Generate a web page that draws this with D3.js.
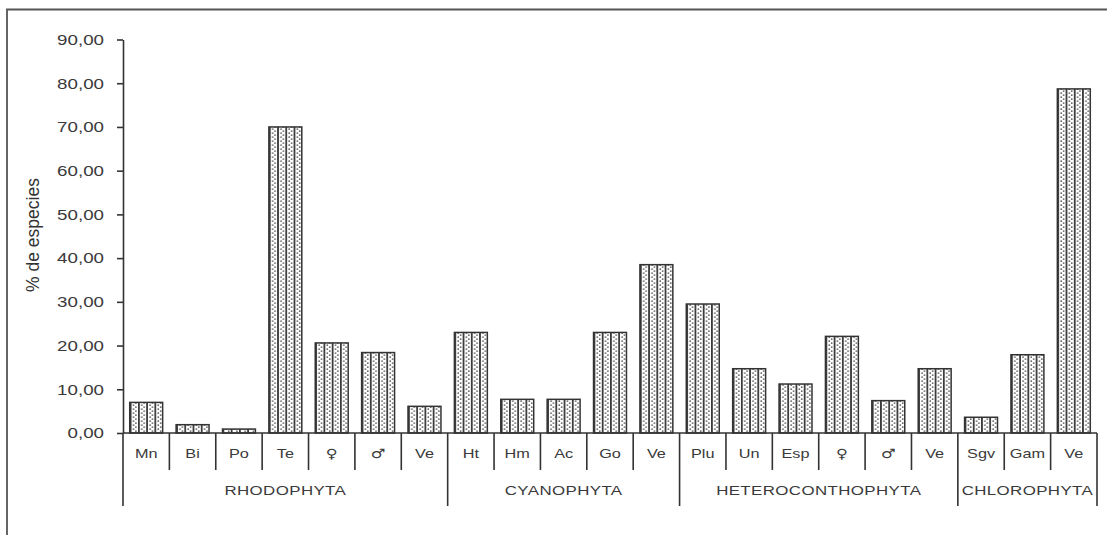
<!DOCTYPE html>
<html>
<head>
<meta charset="utf-8">
<script src="https://cdn.jsdelivr.net/npm/d3@7"></script>
<style>
  body { margin: 0; background: #fff; }
  svg { display: block; font-family: "Liberation Sans", Arial, sans-serif; }
</style>
</head>
<body>
<svg id="chart" width="1107" height="535"></svg>
<script>
// categories (sub labels) and their groups
var labels = ["Mn", "Bi", "Po", "Te", "\u2640", "\u2642", "Ve",
              "Ht", "Hm", "Ac", "Go", "Ve",
              "Plu", "Un", "Esp", "\u2640", "\u2642", "Ve",
              "Sgv", "Gam", "Ve"];
var groups = ["RHODOPHYTA", "CYANOPHYTA", "HETEROCONTHOPHYTA", "CHLOROPHYTA"];
var groupSizes = [7, 5, 6, 3];
var values = [7.0, 1.9, 0.9, 70.0, 20.6, 18.4, 6.1,
              23.0, 7.7, 7.7, 23.0, 38.5,
              29.5, 14.7, 11.2, 22.1, 7.4, 14.7,
              3.6, 17.9, 78.7];
var yTicks = [0, 10, 20, 30, 40, 50, 60, 70, 80, 90];

(function() {
var svg = d3.select("#chart");
var left = 123, right = 1097, plotTop = 39.5, base = 433;

var idx = d3.range(labels.length);
var x = d3.scaleBand().domain(idx).range([left, right]).paddingInner(0.29).paddingOuter(0.145);
var slot = d3.scaleBand().domain(idx).range([left, right]).padding(0);
var y = d3.scaleLinear().domain([0, 90]).range([base, plotTop]);

var fmt = function(d) { return d3.format(".2f")(d).replace(".", ","); };

// outer frame (left + top only)
svg.append("path")
  .attr("d", "M7,535 L7,9.5 L1107,9.5")
  .attr("fill", "none").attr("stroke", "#555").attr("stroke-width", 1.8);

// patterns, one per bar so the stripes line up with the bar edge
var defs = svg.append("defs");
idx.forEach(function(i) {
  var w = x.bandwidth() / 4;
  var p = defs.append("pattern")
    .attr("id", "pat" + i)
    .attr("patternUnits", "userSpaceOnUse")
    .attr("x", x(i)).attr("y", 0)
    .attr("width", w).attr("height", 4);
  p.append("rect").attr("width", w).attr("height", 4).attr("fill", "#fff");
  p.append("rect").attr("x", 0).attr("width", 1.8).attr("height", 4).attr("fill", "#3a3a3a");
  p.append("rect").attr("x", w * 0.38).attr("y", 0.4).attr("width", 1.5).attr("height", 1.5).attr("fill", "#555");
  p.append("rect").attr("x", w * 0.66).attr("y", 2.4).attr("width", 1.5).attr("height", 1.5).attr("fill", "#555");
});

// bars
svg.append("g").selectAll("rect")
  .data(values)
  .join("rect")
  .attr("x", function(d, i) { return x(i); })
  .attr("y", function(d) { return y(d); })
  .attr("width", x.bandwidth())
  .attr("height", function(d) { return base - y(d); })
  .attr("fill", function(d, i) { return "url(#pat" + i + ")"; })
  .attr("stroke", "#333").attr("stroke-width", 1.5);

// y axis
var yAxis = d3.axisLeft(y).tickValues(yTicks).tickFormat(fmt).tickSize(6).tickSizeOuter(0);
var gy = svg.append("g").attr("transform", "translate(" + left + ",0)").call(yAxis);
gy.select(".domain").attr("stroke", "#333").attr("stroke-width", 1.6);
gy.selectAll(".tick line").attr("stroke", "#333").attr("stroke-width", 1.6);
// the source picture is stretched sideways, so the labels are too
gy.selectAll(".tick text")
  .attr("x", 0)
  .attr("transform", "translate(-19,0) scale(1.25,1)")
  .attr("fill", "#3a3a3a").style("font-size", "15px")
  .style("font-family", "'Liberation Sans', Arial, sans-serif");

svg.append("text")
  .attr("transform", "translate(39,235) rotate(-90)")
  .attr("text-anchor", "middle")
  .attr("fill", "#333")
  .style("font-size", "17.5px")
  .text("% de especies");

// category axis
var gx = svg.append("g");
gx.append("line")
  .attr("x1", left).attr("x2", right).attr("y1", base).attr("y2", base)
  .attr("stroke", "#333").attr("stroke-width", 1.6);

var groupEdges = [0];
groupSizes.forEach(function(n, k) { groupEdges.push(groupEdges[k] + n); });

d3.range(labels.length + 1).forEach(function(i) {
  var xx = i < labels.length ? slot(i) : right;
  var isGroup = groupEdges.indexOf(i) >= 0;
  gx.append("line")
    .attr("x1", xx).attr("x2", xx)
    .attr("y1", base).attr("y2", isGroup ? 506 : 470)
    .attr("stroke", "#333").attr("stroke-width", 1.6);
});

gx.selectAll("text.sub")
  .data(labels)
  .join("text")
  .attr("class", "sub")
  .attr("transform", function(d, i) {
    return "translate(" + (slot(i) + slot.bandwidth() / 2) + ",457.5) scale(1.25,1)";
  })
  .attr("text-anchor", "middle")
  .attr("fill", "#3a3a3a")
  .style("font-size", "13px")
  .style("font-family", function(d) { return d.length == 1 ? "'DejaVu Sans', sans-serif" : null; })
  .text(function(d) { return d; });

gx.selectAll("text.grp")
  .data(groups)
  .join("text")
  .attr("class", "grp")
  .attr("transform", function(d, k) {
    var a = slot(groupEdges[k]);
    var b = groupEdges[k + 1] < labels.length ? slot(groupEdges[k + 1]) : right;
    return "translate(" + ((a + b) / 2) + ",494.5) scale(1.3,1)";
  })
  .attr("text-anchor", "middle")
  .attr("fill", "#3a3a3a")
  .style("font-size", "13px")
  .style("letter-spacing", "0.3px")
  .text(function(d) { return d; });
})();
</script>
</body>
</html>
